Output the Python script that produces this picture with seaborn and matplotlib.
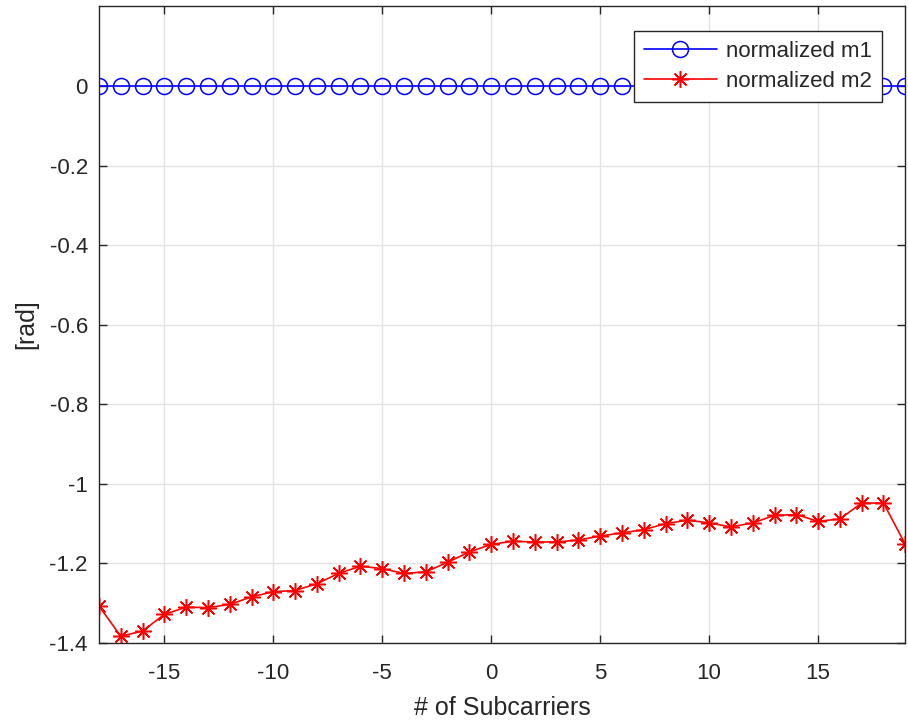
import matplotlib
matplotlib.use("Agg")
import matplotlib.pyplot as plt
import seaborn as sns
import pandas as pd

# subcarrier index and the two normalized phase curves
subcarriers = list(range(-18, 20))
m1_values = [0.0] * len(subcarriers)
m2_values = [-1.308, -1.384, -1.371, -1.329, -1.311, -1.312, -1.304, -1.285,
             -1.272, -1.269, -1.252, -1.226, -1.208, -1.214, -1.226, -1.222,
             -1.198, -1.172, -1.153, -1.145, -1.147, -1.147, -1.142, -1.132,
             -1.124, -1.116, -1.101, -1.092, -1.099, -1.109, -1.099, -1.080,
             -1.078, -1.095, -1.089, -1.049, -1.049, -1.153]
x_ticks = [-15, -10, -5, 0, 5, 10, 15]
y_ticks = [-1.4, -1.2, -1.0, -0.8, -0.6, -0.4, -0.2, 0.0]
y_tick_labels = ['-1.4', '-1.2', '-1', '-0.8', '-0.6', '-0.4', '-0.2', '0']

df = pd.DataFrame({'sc': subcarriers, 'm1': m1_values, 'm2': m2_values})

sns.set_style('whitegrid')
plt.rcParams['font.family'] = ['Liberation Sans', 'DejaVu Sans']

fig = plt.figure(figsize=(9.08, 7.22), dpi=100)
ax = fig.add_axes([0.109, 0.11, 0.888, 0.881])

sns.lineplot(data=df, x='sc', y='m1', ax=ax, color='#0000ff', marker='o',
             markersize=11.5, markerfacecolor='none', markeredgecolor='#0000ff',
             markeredgewidth=1.1, linewidth=1.2, label='normalized m1')
sns.lineplot(data=df, x='sc', y='m2', ax=ax, color='#ff0000', marker=(8, 2, 0),
             markersize=12, markeredgecolor='#ff0000', markeredgewidth=1.1,
             linewidth=1.2, label='normalized m2')

ax.set_xlim(-18, 19)
ax.set_ylim(-1.4, 0.2)
ax.set_xticks(x_ticks)
ax.set_xticklabels([str(t) for t in x_ticks])
ax.set_yticks(y_ticks)
ax.set_yticklabels(y_tick_labels)

ax.grid(True, color='#e3e3e3', linewidth=1.0)
for side in ax.spines.values():
    side.set_color('#262626')
    side.set_linewidth(1.0)
ax.tick_params(direction='in', length=6, width=1, colors='#262626',
               labelsize=16, top=True, right=True, left=True, bottom=True)
ax.tick_params(axis='x', pad=15)
ax.tick_params(axis='y', pad=8)

ax.set_xlabel('# of Subcarriers', fontsize=18, color='#262626', labelpad=8)
ax.set_ylabel('[rad]', fontsize=18, color='#262626', labelpad=8)

leg = ax.legend(loc='upper right', bbox_to_anchor=(0.971, 0.962), fontsize=16,
                frameon=True, fancybox=False, handlelength=3.3, borderpad=0.45,
                labelspacing=0.4, handletextpad=0.4, borderaxespad=0)
leg.get_frame().set_edgecolor('#262626')
leg.get_frame().set_linewidth(1.0)
leg.get_frame().set_alpha(1.0)

fig.savefig('out.png', dpi=100)
